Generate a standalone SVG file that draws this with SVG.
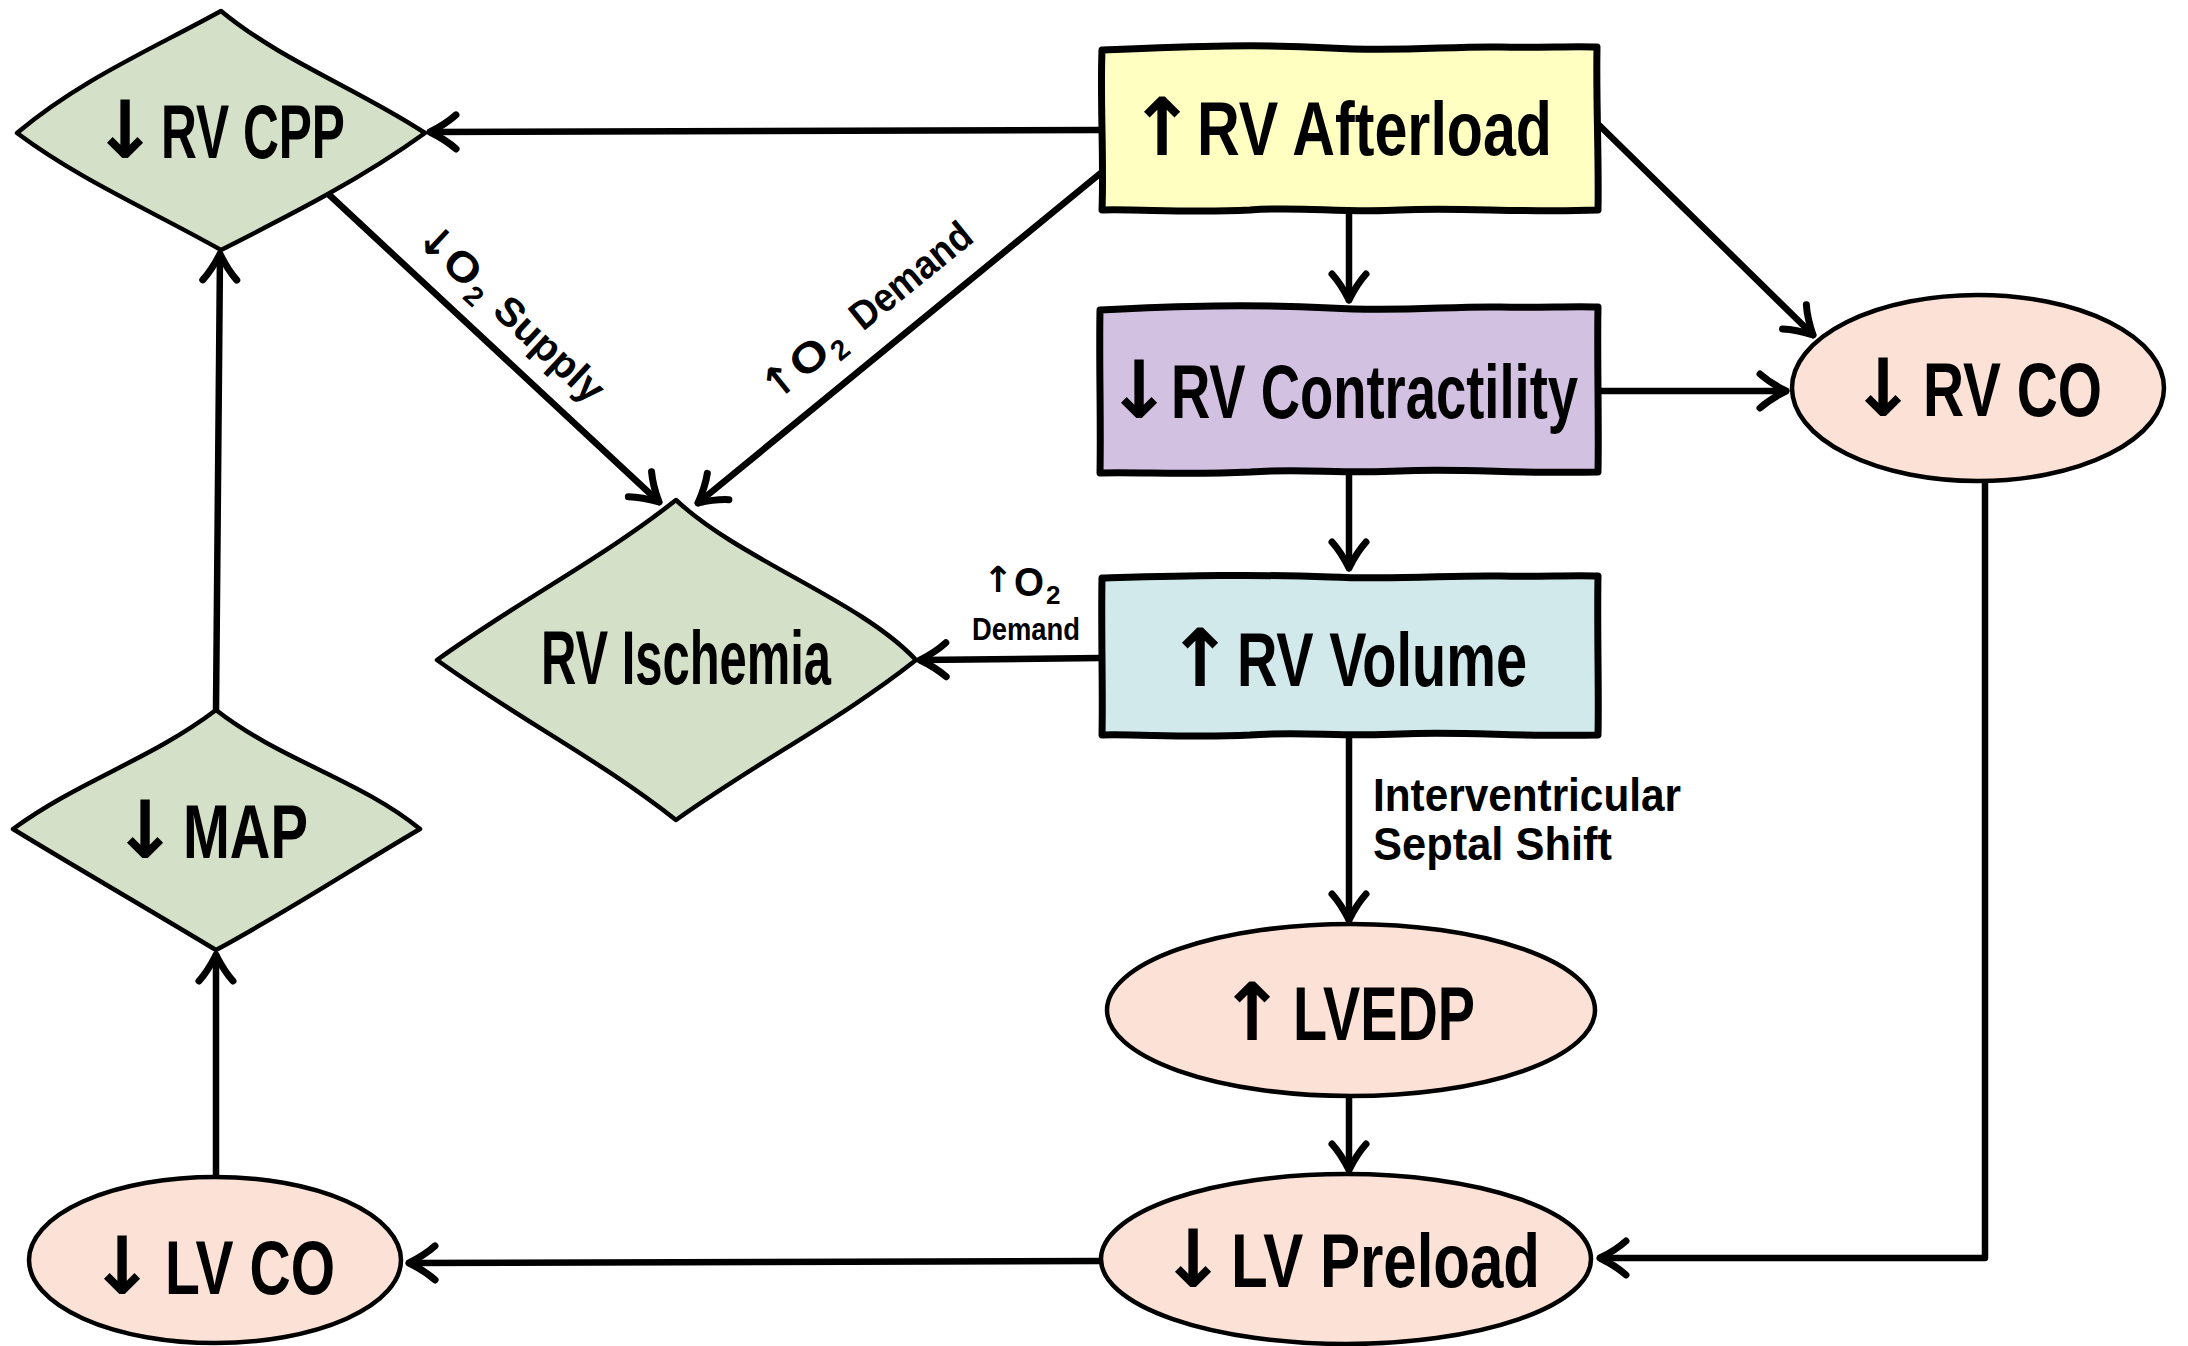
<svg xmlns="http://www.w3.org/2000/svg" width="2188" height="1346" viewBox="0 0 2188 1346">
<defs>
<style>
.lbl{font-family:"Liberation Sans","DejaVu Sans",sans-serif;font-weight:bold;fill:#000}
.main{font-size:76px}
.small{font-size:46px}
.ar{font-family:"DejaVu Sans",sans-serif;font-weight:bold;fill:#000;text-anchor:middle}
.am{font-size:80px}
.box{stroke:#000;stroke-width:7;stroke-linejoin:round}
.shape{stroke:#000;stroke-width:4.5;stroke-linejoin:round}
.edge{fill:none;stroke:#000;stroke-width:6.5;stroke-linecap:round;stroke-linejoin:round}
</style>
<marker id="ah" markerUnits="userSpaceOnUse" viewBox="0 0 44 44" refX="38" refY="22" markerWidth="44" markerHeight="44" orient="auto">
<path d="M12,5 Q22,14 38,22 Q22,30 12,39" fill="none" stroke="#000" stroke-width="7" stroke-linecap="round" stroke-linejoin="round"/>
</marker>
</defs>
<rect width="2188" height="1346" fill="#fff"/>

<g id="connectors">
<path class="edge" d="M1102,130 L430,132" marker-end="url(#ah)"/>
<path class="edge" d="M1102,172 L698,503" marker-end="url(#ah)"/>
<path class="edge" d="M324,190 L659,502" marker-end="url(#ah)"/>
<path class="edge" d="M1349,212 L1349,300" marker-end="url(#ah)"/>
<path class="edge" d="M1599,125 L1813,335" marker-end="url(#ah)"/>
<path class="edge" d="M1599,391 L1786,391" marker-end="url(#ah)"/>
<path class="edge" d="M1349,474 L1349,568" marker-end="url(#ah)"/>
<path class="edge" d="M1100,658 L920,660" marker-end="url(#ah)"/>
<path class="edge" d="M1349,737 L1349,920" marker-end="url(#ah)"/>
<path class="edge" d="M1349,1096 L1349,1170" marker-end="url(#ah)"/>
<path class="edge" d="M1985,481 L1985,1258 L1600,1258" marker-end="url(#ah)"/>
<path class="edge" d="M1101,1261 L409,1263" marker-end="url(#ah)"/>
<path class="edge" d="M216,1175 L216,955" marker-end="url(#ah)"/>
<path class="edge" d="M216,710 L220,254" marker-end="url(#ah)"/>
<g transform="translate(513,313) rotate(43)">
<text class="ar" font-size="42" x="-104" y="15">↓</text>
<text class="lbl" font-size="42" x="-86" y="15" textLength="36" lengthAdjust="spacingAndGlyphs">O</text>
<text class="lbl" font-size="28" x="-48" y="24">2</text>
<text class="lbl" font-size="40" x="-16" y="15" textLength="135" lengthAdjust="spacingAndGlyphs">Supply</text>
</g>
<g transform="translate(866,310) rotate(-39)">
<text class="ar" font-size="42" x="-112" y="15">↑</text>
<text class="lbl" font-size="42" x="-93" y="15" textLength="38" lengthAdjust="spacingAndGlyphs">O</text>
<text class="lbl" font-size="28" x="-53" y="24">2</text>
<text class="lbl" font-size="40" x="-16" y="15" textLength="145" lengthAdjust="spacingAndGlyphs">Demand</text>
</g>
<text class="ar" font-size="36" x="998" y="592">↑</text>
<text class="lbl" font-size="40" x="1014" y="596" textLength="30" lengthAdjust="spacingAndGlyphs">O</text>
<text class="lbl" font-size="26" x="1046" y="604">2</text>
<text class="lbl" font-size="32" x="972" y="640" textLength="108" lengthAdjust="spacingAndGlyphs">Demand</text>
<text class="lbl small" x="1373" y="811" textLength="308" lengthAdjust="spacingAndGlyphs">Interventricular</text>
<text class="lbl small" x="1373" y="860" textLength="239" lengthAdjust="spacingAndGlyphs">Septal Shift</text>
</g>

<g id="rv-cpp">
<path class="shape" fill="#D5E0C8" d="M17,133 C80,80 150,50 221,11 C280,60 360,90 425,133 C360,180 290,215 221,250 C150,210 80,180 17,133 Z"/>
<text class="ar am" x="125" y="158">↓</text>
<text class="lbl main" x="161" y="158" textLength="184" lengthAdjust="spacingAndGlyphs">RV CPP</text>
</g>

<g id="rv-afterload">
<path class="box" fill="#FFFFC2" d="M1102,50 C1200,46 1260,44 1330,48 C1400,52 1450,46 1500,47 C1540,48 1570,46 1597,47 C1596,100 1599,160 1598,210 C1520,213 1460,207 1400,210 C1340,213 1300,206 1250,210 C1190,213 1140,209 1102,210 C1104,160 1100,100 1102,50 Z"/>
<text class="ar am" x="1162" y="155">↑</text>
<text class="lbl main" x="1197" y="155" textLength="355" lengthAdjust="spacingAndGlyphs">RV Afterload</text>
</g>

<g id="rv-contractility">
<path class="box" fill="#D3C1E1" d="M1100,310 C1180,306 1250,304 1330,308 C1400,312 1450,306 1500,307 C1540,308 1570,306 1598,307 C1597,360 1599,420 1598,472 C1520,474 1460,468 1400,471 C1340,474 1300,468 1250,472 C1190,475 1140,472 1100,473 C1101,420 1099,360 1100,310 Z"/>
<text class="ar am" x="1139" y="418">↓</text>
<text class="lbl main" x="1171" y="418" textLength="407" lengthAdjust="spacingAndGlyphs">RV Contractility</text>
</g>

<g id="rv-volume">
<path class="box" fill="#D2E9EC" d="M1102,578 C1180,576 1250,574 1330,577 C1400,580 1450,575 1500,576 C1540,577 1570,575 1598,576 C1597,630 1599,690 1598,735 C1520,737 1460,731 1400,734 C1340,737 1300,731 1250,735 C1190,738 1140,734 1102,735 C1103,690 1101,630 1102,578 Z"/>
<text class="ar am" x="1200" y="686">↑</text>
<text class="lbl main" x="1237" y="686" textLength="290" lengthAdjust="spacingAndGlyphs">RV Volume</text>
</g>

<g id="rv-co">
<ellipse class="shape" fill="#FCE2D6" cx="1978" cy="388" rx="186" ry="93"/>
<text class="ar am" x="1883" y="416">↓</text>
<text class="lbl main" x="1923" y="416" textLength="179" lengthAdjust="spacingAndGlyphs">RV CO</text>
</g>

<g id="rv-ischemia">
<path class="shape" fill="#D5E0C8" d="M437,660 C520,600 600,560 676,500 C740,560 860,600 916,660 C840,720 760,760 676,820 C600,760 520,720 437,660 Z"/>
<text class="lbl main" x="541" y="684" textLength="290" lengthAdjust="spacingAndGlyphs">RV Ischemia</text>
</g>

<g id="map">
<path class="shape" fill="#D5E0C8" d="M13,829 C80,780 150,760 216,710 C280,760 360,780 420,829 C350,870 290,910 216,950 C150,910 80,870 13,829 Z"/>
<text class="ar am" x="145" y="858">↓</text>
<text class="lbl main" x="183" y="858" textLength="125" lengthAdjust="spacingAndGlyphs">MAP</text>
</g>

<g id="lvedp">
<ellipse class="shape" fill="#FCE2D6" cx="1351" cy="1010" rx="244" ry="86"/>
<text class="ar am" x="1252" y="1040">↑</text>
<text class="lbl main" x="1293" y="1040" textLength="182" lengthAdjust="spacingAndGlyphs">LVEDP</text>
</g>

<g id="lv-preload">
<ellipse class="shape" fill="#FCE2D6" cx="1346" cy="1259" rx="245" ry="85"/>
<text class="ar am" x="1193" y="1287">↓</text>
<text class="lbl main" x="1231" y="1287" textLength="309" lengthAdjust="spacingAndGlyphs">LV Preload</text>
</g>

<g id="lv-co">
<ellipse class="shape" fill="#FCE2D6" cx="215" cy="1260" rx="186" ry="83"/>
<text class="ar am" x="122" y="1294">↓</text>
<text class="lbl main" x="165" y="1294" textLength="170" lengthAdjust="spacingAndGlyphs">LV CO</text>
</g>
</svg>
